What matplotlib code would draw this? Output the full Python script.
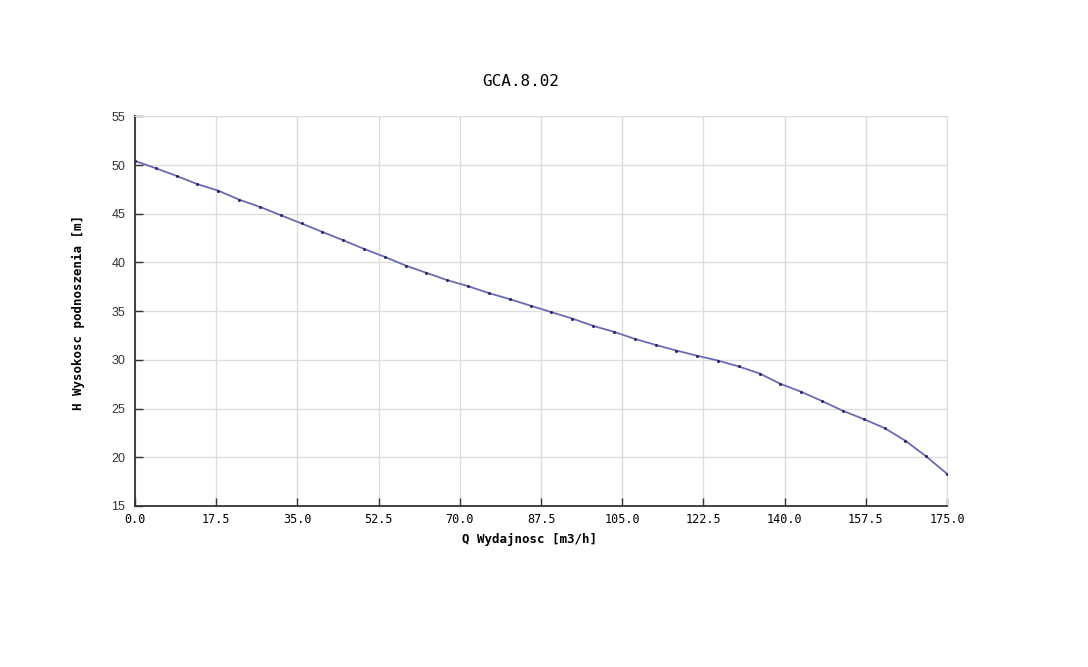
import numpy as np
import matplotlib
matplotlib.use("Agg")
import matplotlib.pyplot as plt

title = "GCA.8.02"
x_label = "Q Wydajnosc [m3/h]"
y_label = "H Wysokosc podnoszenia [m]"

q_values = list(np.linspace(0, 175, 40))
h_values = [50.42, 49.67, 48.88, 48.03, 47.37, 46.45, 45.70, 44.85, 44.00, 43.13,
            42.28, 41.39, 40.57, 39.68, 38.93, 38.18, 37.56, 36.85, 36.23, 35.56,
            34.90, 34.24, 33.49, 32.88, 32.16, 31.54, 30.96, 30.42, 29.93, 29.32,
            28.60, 27.54, 26.72, 25.77, 24.77, 23.92, 23.00, 21.70, 20.09, 18.31]
x_ticks = [0.0, 17.5, 35.0, 52.5, 70.0, 87.5, 105.0, 122.5, 140.0, 157.5, 175.0]
y_ticks = [15, 20, 25, 30, 35, 40, 45, 50, 55]

mono = "DejaVu Sans Mono"

fig = plt.figure(figsize=(10.88, 6.67), dpi=100)
ax = fig.add_axes([135/1088, 1-506/667, (947-135)/1088, (506-116.3)/667])

ax.plot(q_values, h_values, color="#6a6ab4", lw=1.3, zorder=3)
ax.plot(q_values, h_values, ls="none", marker="o", ms=1.2, color="#2a2a60", zorder=4)

ax.set_xlim(0, 175)
ax.set_ylim(15, 55)
ax.set_xticks(x_ticks)
ax.set_xticklabels([f"{v:.1f}" for v in x_ticks], fontfamily=mono, fontsize=8.5)
ax.set_yticks(y_ticks)
ax.set_yticklabels([str(v) for v in y_ticks], fontfamily="Liberation Sans", fontsize=9, color="#333333")
ax.tick_params(direction="in", length=6, width=1, color="#333333")
ax.tick_params(axis="x", pad=5)
ax.tick_params(axis="y", pad=7)
ax.grid(True, color="#dddddd", lw=1)
ax.set_axisbelow(True)
for s in ["top", "right"]:
    ax.spines[s].set_color("#dddddd")
for s in ["left", "bottom"]:
    ax.spines[s].set_color("#333333")
    ax.spines[s].set_linewidth(1.3)

fig.text(521/1088, 1-82/667, title, ha="center", va="center", fontfamily=mono, fontsize=11.5)
fig.text(530/1088, 1-540/667, x_label, ha="center", va="center", fontfamily=mono, fontsize=9, fontweight="bold")
fig.text(78/1088, 1-312/667, y_label, ha="center", va="center", rotation=90, fontfamily=mono, fontsize=9, fontweight="bold")

fig.savefig("out.png", dpi=100, facecolor="white")
